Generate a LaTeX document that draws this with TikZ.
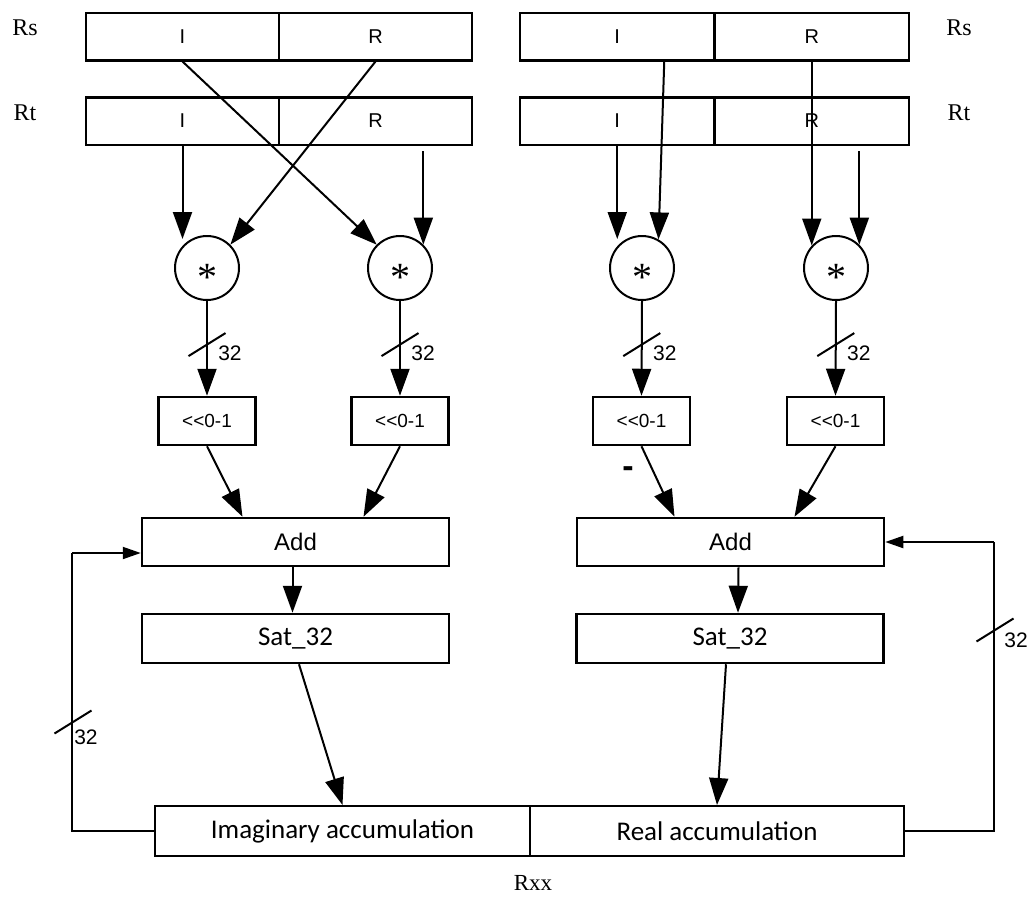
\documentclass[tikz,border=0pt]{standalone}
\usepackage{fontspec}
\setmainfont{Liberation Serif}
\newfontfamily\arialf{Liberation Sans}
\newfontfamily\calibf{Carlito}
\usetikzlibrary{arrows.meta,calc}
\begin{document}
\begin{tikzpicture}[x=1pt,y=-1pt,
  reg/.style={draw,line width=2.5pt,minimum width=193pt,minimum height=47.5pt,inner sep=0pt,font=\arialf\fontsize{20}{22}\selectfont},
  regr/.style={reg,minimum width=194.5pt},
  mul/.style={draw,circle,line width=2pt,minimum size=64pt,inner sep=0pt},
  ast/.style={font=\fontsize{40}{40}\selectfont,inner sep=0pt},
  shf/.style={draw,line width=2.5pt,minimum width=97pt,minimum height=48pt,inner sep=0pt,font=\arialf\fontsize{19}{21}\selectfont},
  big/.style={draw,line width=2.5pt,minimum width=307pt,minimum height=48pt,inner sep=0pt,font=\arialf\fontsize{24}{26}\selectfont},
  sat/.style={draw,line width=2.5pt,minimum width=307pt,minimum height=49pt,inner sep=0pt,font=\calibf\fontsize{27}{29}\selectfont},
  acc/.style={draw,line width=2pt,minimum width=375pt,minimum height=50pt,inner sep=0pt,font=\calibf\fontsize{27}{29}\selectfont},
  regname/.style={font=\fontsize{24}{26}\selectfont,inner sep=0pt},
  lab/.style={font=\arialf\fontsize{21}{23}\selectfont,inner sep=0pt},
  arr/.style={line width=2pt,-{Triangle[length=27pt,width=19pt]}},
  farr/.style={line width=2pt,-{Triangle[length=18pt,width=12pt]}},
  fline/.style={line width=2pt},
  slash/.style={line width=2pt}]
\useasboundingbox (0,0) rectangle (1031,898);

% registers
\node[reg] (rsLI) at (182.5,36.5) {I};
\node[reg] (rsLR) at (375.5,36.5) {R};
\node[reg] (rtLI) at (182.5,121) {I};
\node[reg] (rtLR) at (375.5,121) {R};
\node[regr] (rsRI) at (617.25,36.5) {I};
\node[regr] (rsRR) at (811.75,36.5) {R};
\node[regr] (rtRI) at (617.25,121) {I};
\node[regr] (rtRR) at (811.75,121) {R};
\node[regname] (nRs1) at (25,28) {Rs};
\node[regname] (nRt1) at (25,112.5) {Rt};
\node[regname] (nRs2) at (959,28) {Rs};
\node[regname] (nRt2) at (959,113) {Rt};

% multipliers
\node[mul] (cL1) at (207,268) {};
\node[mul] (cL2) at (400,268) {};
\node[mul] (cR1) at (642,268) {};
\node[mul] (cR2) at (836,268) {};
\foreach \c/\n in {cL1/a1,cL2/a2,cR1/a3,cR2/a4}
  \node[ast,anchor=base] (\n) at ($(\c)+(0,22)$) {*};

% inputs to multipliers
\draw[arr] (rtLI.south) -- ($(rtLI.south |- cL1.north)+(0,4)$);
\draw[arr] (rsLR.south) -- (cL1.45);
\draw[arr] (rsLI.south) -- (cL2.135);
\draw[arr] ($(cL2.45 |- rtLR.south)+(0,5)$) -- (cL2.45);
\draw[arr] (rtRI.south) -- ($(rtRI.south |- cR1.north)+(0,4)$);
\draw[arr] ($(rsRI.south)+(47,0)$) -- (cR1.60);
\draw[arr] (rsRR.south) -- (rsRR.south |- cR2.137);
\draw[arr] ($(cR2.45 |- rtRR.south)+(0,5)$) -- (cR2.45);

% shifters
\node[shf] (sL1) at (207,421) {<{}<0-1};
\node[shf] (sL2) at (400,421) {<{}<0-1};
\node[shf] (sR1) at (641.5,421) {<{}<0-1};
\node[shf] (sR2) at (835.5,421) {<{}<0-1};
\foreach \c/\s/\k in {cL1/sL1/1,cL2/sL2/2,cR1/sR1/3,cR2/sR2/4}{
  \draw[arr] (\c.south) -- coordinate[pos=0.46] (t\k) (\s.north);
  \draw[slash] ($(t\k)+(-18.5,11.5)$) -- ($(t\k)+(18.5,-11.5)$);
  \node[lab] (w\k) at ($(t\k)+(23,9)$) {32};
}

% adders
\node[big] (addL) at (295.5,542) {Add};
\node[big] (addR) at (730.5,542) {Add};
\draw[arr] (sL1.south) -- ($(addL.north)+(-53,0)$);
\draw[arr] (sL2.south) -- ($(addL.north)+(68,0)$);
\draw[arr] (sR1.south) -- ($(addR.north)+(-56,0)$);
\draw[arr] (sR2.south) -- ($(addR.north)+(64,0)$);
\node[font=\arialf\bfseries\fontsize{34}{36}\selectfont,inner sep=0pt] (minus) at (628,472.5) {-};

% saturation
\node[sat] (satL) at (295.5,638.5) {Sat\_32};
\node[sat] (satR) at (730,638.5) {Sat\_32};
\draw[arr] ($(addL.south)+(-3,0)$) -- ($(satL.north)+(-3,0)$);
\draw[arr] ($(addR.south)+(8,0)$) -- ($(satR.north)+(8,0)$);

% accumulator
\node[acc] (accIm) at (342.5,831) {Imaginary accumulation};
\node[acc,minimum width=374pt] (accRe) at (717,831) {Real accumulation};
\draw[arr] ($(satL.south)+(3.5,0)$) -- (accIm.north);
\draw[arr] ($(satR.south)+(-4,0)$) -- (accRe.north);
\node[font=\fontsize{23}{25}\selectfont,inner sep=0pt] (rxx) at (533,883) {Rxx};

% feedback
\coordinate (fbL) at (72,553);
\coordinate (fbR) at (994,542);
\draw[fline] (accIm.west) -| (fbL);
\draw[farr] (fbL) -- (fbL -| addL.west);
\draw[fline] (accRe.east) -| (fbR);
\draw[farr] (fbR) -- (addR.east);
\coordinate (tfL) at (73,722);
\coordinate (tfR) at (995,630);
\draw[slash] ($(tfL)+(-18.5,11.5)$) -- ($(tfL)+(18.5,-11.5)$);
\draw[slash] ($(tfR)+(-18.5,11.5)$) -- ($(tfR)+(18.5,-11.5)$);
\node[lab] (wfL) at (86,737) {32};
\node[lab] (wfR) at (1016,640) {32};
\end{tikzpicture}
\end{document}
